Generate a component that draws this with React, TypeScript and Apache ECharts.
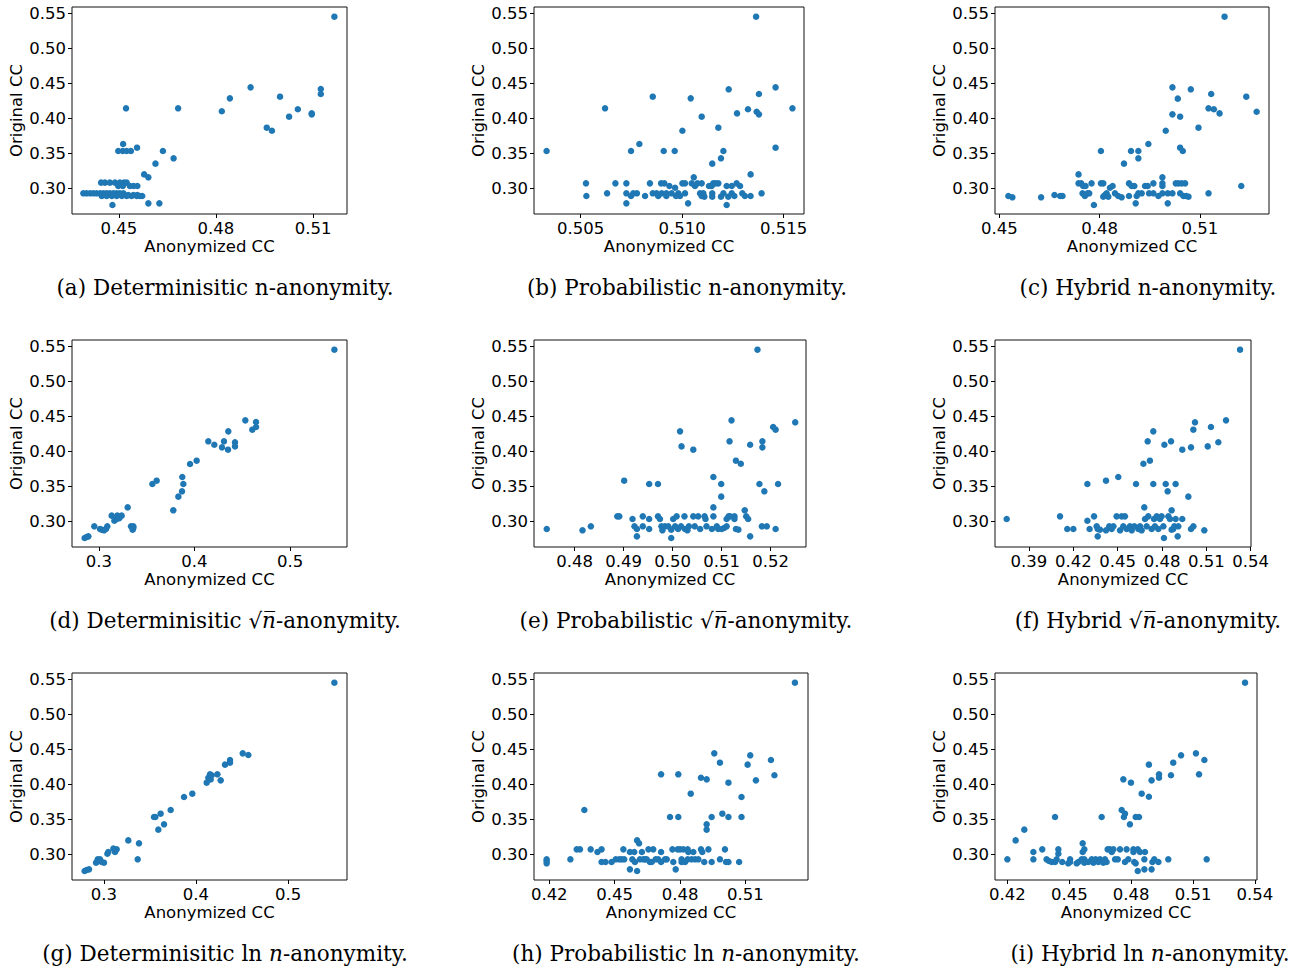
import { useEffect, useRef } from "react";
import * as echarts from "echarts";

type P = [number, number];

// Original CC (y) tick labels shared by every panel
const yTicks = [0.3, 0.35, 0.4, 0.45, 0.5, 0.55];

// Anonymized CC (x) tick labels per panel
const xTicksA = [0.45, 0.48, 0.51];
const xTicksB = [0.505, 0.51, 0.515];
const xTicksC = [0.45, 0.48, 0.51];
const xTicksD = [0.3, 0.4, 0.5];
const xTicksE = [0.48, 0.49, 0.5, 0.51, 0.52];
const xTicksF = [0.39, 0.42, 0.45, 0.48, 0.51, 0.54];
const xTicksG = [0.3, 0.4, 0.5];
const xTicksH = [0.42, 0.45, 0.48, 0.51];
const xTicksI = [0.42, 0.45, 0.48, 0.51, 0.54];

// [anonymized CC, original CC]
const detN: P[] = [
  [0.5166, 0.5452], [0.4907, 0.4444], [0.4843, 0.4287], [0.4818, 0.4104], [0.4998, 0.4311],
  [0.5053, 0.4131], [0.5026, 0.4026], [0.5096, 0.4059], [0.5096, 0.4073], [0.5124, 0.4421],
  [0.5124, 0.4349], [0.4957, 0.3869], [0.4973, 0.3826], [0.4522, 0.4145], [0.4683, 0.4145],
  [0.4513, 0.3636], [0.4498, 0.3536], [0.4512, 0.3536], [0.4524, 0.3536], [0.4537, 0.3536],
  [0.4556, 0.3584], [0.4636, 0.3536], [0.4669, 0.3432], [0.4613, 0.3356], [0.4578, 0.3203],
  [0.4591, 0.3161], [0.4591, 0.279], [0.4625, 0.279], [0.448, 0.2766],
  [0.4445, 0.3085], [0.4457, 0.3085], [0.4472, 0.3085], [0.4488, 0.3085], [0.4503, 0.3085],
  [0.4516, 0.3085], [0.4524, 0.3085],
  [0.4498, 0.3037], [0.4512, 0.3037], [0.4534, 0.3037], [0.4545, 0.3037], [0.4557, 0.3037],
  [0.439, 0.2933], [0.44, 0.2933], [0.4411, 0.2933], [0.4421, 0.2933], [0.4431, 0.2933],
  [0.4442, 0.2933], [0.4452, 0.2933], [0.4462, 0.2933], [0.4472, 0.2933], [0.4483, 0.2933],
  [0.4493, 0.2933], [0.4503, 0.2933], [0.4514, 0.2933],
  [0.4447, 0.2895], [0.4462, 0.2895], [0.4478, 0.2895], [0.4493, 0.2895], [0.4509, 0.2895],
  [0.4524, 0.2895], [0.4539, 0.2895], [0.4555, 0.2895], [0.4565, 0.2895], [0.4572, 0.2895],
  [0.4529, 0.2909], [0.4545, 0.2909], [0.4557, 0.2909],
];

const probN: P[] = [
  [0.50332, 0.3536], [0.5062, 0.4145], [0.50526, 0.3075], [0.50528, 0.2895], [0.5063, 0.2933],
  [0.50671, 0.3075], [0.50725, 0.3075], [0.50725, 0.2933], [0.50725, 0.279], [0.50748, 0.3536],
  [0.50748, 0.2895], [0.50759, 0.2933], [0.50777, 0.2933], [0.50789, 0.3636], [0.50817, 0.2895],
  [0.50855, 0.4311], [0.50841, 0.3075], [0.50855, 0.2933], [0.50874, 0.2933], [0.50882, 0.2895],
  [0.50899, 0.2933], [0.50896, 0.3075], [0.50912, 0.3075], [0.50909, 0.3536], [0.50922, 0.2933],
  [0.50922, 0.2895], [0.50937, 0.3037], [0.50948, 0.2933], [0.50965, 0.3013], [0.50963, 0.3536],
  [0.5097, 0.2895], [0.50981, 0.2933], [0.50989, 0.2895], [0.51001, 0.3826], [0.51001, 0.3075],
  [0.51014, 0.3075], [0.51014, 0.2933], [0.51029, 0.279], [0.51042, 0.4287], [0.51047, 0.3075],
  [0.51057, 0.3161], [0.51063, 0.3037], [0.51075, 0.3075], [0.51088, 0.2933], [0.51096, 0.3075],
  [0.51096, 0.2895], [0.51104, 0.2933], [0.51109, 0.2885], [0.51096, 0.4026], [0.51132, 0.3037],
  [0.51145, 0.3037], [0.51153, 0.3075], [0.51165, 0.3075], [0.51178, 0.3075], [0.51148, 0.2933],
  [0.51148, 0.2885], [0.51148, 0.3356], [0.51178, 0.3869], [0.51191, 0.3432], [0.51203, 0.3536],
  [0.51191, 0.2885], [0.51203, 0.2933], [0.51219, 0.3037], [0.51219, 0.2766], [0.51227, 0.2885],
  [0.51244, 0.3037], [0.51244, 0.2933], [0.51257, 0.2895], [0.51229, 0.4416], [0.5127, 0.4073],
  [0.51268, 0.3075], [0.51285, 0.3037], [0.51296, 0.2933], [0.51309, 0.2895], [0.51337, 0.2895],
  [0.51391, 0.2933], [0.51324, 0.4131], [0.51337, 0.3203], [0.51364, 0.5452], [0.51367, 0.4097],
  [0.51378, 0.4059], [0.51378, 0.4349], [0.5146, 0.4444], [0.5146, 0.3584], [0.51543, 0.4145],
];

const hybN: P[] = [
  [0.4527, 0.2895], [0.4539, 0.2876], [0.4625, 0.2876], [0.4665, 0.2909], [0.4682, 0.2895],
  [0.4689, 0.2895], [0.4737, 0.3203], [0.4737, 0.3075], [0.4745, 0.3075], [0.4751, 0.3037],
  [0.4758, 0.3037], [0.4749, 0.2933], [0.4756, 0.2895], [0.4764, 0.2933], [0.4769, 0.2933],
  [0.4776, 0.3075], [0.4783, 0.2766], [0.4804, 0.3536], [0.4804, 0.3075], [0.4811, 0.3075],
  [0.4811, 0.2885], [0.4816, 0.2909], [0.4821, 0.2933], [0.4826, 0.2885], [0.4831, 0.3013],
  [0.4839, 0.3037], [0.4846, 0.2933], [0.4856, 0.2895], [0.4866, 0.2876], [0.4873, 0.3356],
  [0.4888, 0.3075], [0.4896, 0.3037], [0.4888, 0.2895], [0.4894, 0.3536], [0.4904, 0.3037],
  [0.4908, 0.279], [0.4911, 0.2895], [0.4916, 0.2933], [0.4926, 0.2933], [0.4916, 0.3536],
  [0.4916, 0.3432], [0.4936, 0.3037], [0.4944, 0.3037], [0.4946, 0.3636], [0.4948, 0.2933],
  [0.4961, 0.2933], [0.4961, 0.3075], [0.4976, 0.2895], [0.4988, 0.2933], [0.4988, 0.3037],
  [0.4988, 0.3075], [0.4988, 0.3161], [0.4998, 0.3826], [0.5004, 0.279], [0.5004, 0.2933],
  [0.5018, 0.2933], [0.5018, 0.4444], [0.5018, 0.4059], [0.5028, 0.3075], [0.5036, 0.3075],
  [0.5046, 0.3075], [0.5056, 0.3075], [0.5034, 0.4283], [0.5041, 0.4026], [0.5041, 0.3584],
  [0.5049, 0.3536], [0.5041, 0.2933], [0.5051, 0.2895], [0.5059, 0.2895], [0.5066, 0.2885],
  [0.5073, 0.4416], [0.5096, 0.3869], [0.5126, 0.4145], [0.5134, 0.4349], [0.5142, 0.4131],
  [0.5159, 0.4073], [0.5126, 0.2933], [0.5174, 0.5452], [0.5224, 0.3037], [0.5239, 0.4311],
  [0.527, 0.4097],
];

const detSqrt: P[] = [
  [0.5463, 0.5452], [0.2852, 0.2766], [0.2873, 0.278], [0.2891, 0.279], [0.2953, 0.2933],
  [0.3013, 0.2895], [0.303, 0.2885], [0.3055, 0.2876], [0.3075, 0.2895], [0.3089, 0.2933],
  [0.3135, 0.3085], [0.3163, 0.3013], [0.3187, 0.3037], [0.3194, 0.3085], [0.3215, 0.305],
  [0.3239, 0.3085], [0.3302, 0.3203], [0.3337, 0.2933], [0.3361, 0.2933], [0.3354, 0.2885],
  [0.3361, 0.2909], [0.356, 0.3536], [0.3605, 0.3584], [0.3779, 0.3161], [0.3832, 0.3356],
  [0.387, 0.3432], [0.3884, 0.3536], [0.3873, 0.3636], [0.3954, 0.3821], [0.4023, 0.3869],
  [0.4145, 0.4145], [0.4208, 0.4097], [0.4288, 0.4059], [0.4309, 0.4145], [0.4354, 0.4287],
  [0.4351, 0.4026], [0.4424, 0.4131], [0.4424, 0.4073], [0.4532, 0.4444], [0.4605, 0.4311],
  [0.4644, 0.4421], [0.4644, 0.4349],
];

const probSqrt: P[] = [
  [0.4743, 0.2895], [0.4816, 0.2876], [0.4833, 0.2933], [0.4887, 0.3075], [0.4891, 0.3075],
  [0.4901, 0.3584], [0.4918, 0.3037], [0.4922, 0.2933], [0.4927, 0.2895], [0.4927, 0.279],
  [0.4939, 0.3075], [0.4939, 0.2933], [0.4952, 0.3536], [0.4952, 0.3037], [0.4952, 0.2895],
  [0.497, 0.3536], [0.497, 0.3075], [0.4974, 0.3037], [0.4977, 0.2933], [0.4979, 0.2876],
  [0.4984, 0.2933], [0.4991, 0.2933], [0.4997, 0.2766], [0.4997, 0.2885], [0.5001, 0.3037],
  [0.5005, 0.2933], [0.5008, 0.3075], [0.5011, 0.2895], [0.5017, 0.2933], [0.5024, 0.3075],
  [0.5025, 0.2895], [0.503, 0.2876], [0.5033, 0.2933], [0.5042, 0.3075], [0.5045, 0.2933],
  [0.5052, 0.3075], [0.5056, 0.2895], [0.5065, 0.3075], [0.5067, 0.3037], [0.5069, 0.2933],
  [0.508, 0.2895], [0.5083, 0.3075], [0.5083, 0.3203], [0.5083, 0.3636], [0.509, 0.2933],
  [0.5093, 0.2895], [0.5099, 0.3356], [0.5099, 0.3536], [0.51, 0.2895], [0.5105, 0.2909],
  [0.511, 0.2933], [0.511, 0.3037], [0.5114, 0.3075], [0.5117, 0.3075], [0.5126, 0.3075],
  [0.5126, 0.3037], [0.5129, 0.2895], [0.5134, 0.2885], [0.5015, 0.4287], [0.5018, 0.4073],
  [0.5042, 0.4026], [0.5116, 0.4145], [0.512, 0.4444], [0.5129, 0.3869], [0.5139, 0.3826],
  [0.5147, 0.3161], [0.515, 0.3075], [0.5154, 0.3037], [0.5158, 0.279], [0.5158, 0.4097],
  [0.5173, 0.5452], [0.5177, 0.3536], [0.5182, 0.2933], [0.5192, 0.2933], [0.5183, 0.4145],
  [0.5183, 0.4059], [0.5187, 0.3432], [0.5205, 0.4349], [0.521, 0.4311], [0.521, 0.2895],
  [0.5215, 0.3536], [0.525, 0.4416],
];

const hybSqrt: P[] = [
  [0.3749, 0.3037], [0.411, 0.3075], [0.4159, 0.2895], [0.42, 0.2895], [0.4295, 0.3536],
  [0.4295, 0.3013], [0.431, 0.2895], [0.434, 0.3075], [0.4358, 0.2933], [0.4365, 0.2895],
  [0.4365, 0.279], [0.438, 0.2885], [0.4421, 0.3584], [0.4421, 0.2876], [0.4443, 0.2933],
  [0.4459, 0.2895], [0.4471, 0.2933], [0.4493, 0.3075], [0.4504, 0.3636], [0.4516, 0.2876],
  [0.4527, 0.3075], [0.4538, 0.2933], [0.4549, 0.3075], [0.4561, 0.2895], [0.4583, 0.2933],
  [0.4595, 0.2876], [0.4613, 0.2933], [0.4624, 0.3536], [0.464, 0.2895], [0.4651, 0.2933],
  [0.4662, 0.2876], [0.4674, 0.3826], [0.468, 0.3203], [0.4685, 0.3037], [0.4696, 0.2933],
  [0.4703, 0.4145], [0.4707, 0.3075], [0.4718, 0.3869], [0.473, 0.2895], [0.4741, 0.3536],
  [0.4741, 0.4287], [0.4746, 0.3037], [0.4752, 0.2933], [0.4764, 0.3075], [0.4775, 0.2895],
  [0.4786, 0.3037], [0.4797, 0.3075], [0.4809, 0.2933], [0.4813, 0.2766], [0.4816, 0.4097],
  [0.4825, 0.3536], [0.4838, 0.3432], [0.4843, 0.3075], [0.4854, 0.3037], [0.4861, 0.4145],
  [0.4865, 0.3161], [0.4865, 0.2885], [0.4876, 0.2895], [0.4883, 0.2933], [0.4892, 0.3536],
  [0.4892, 0.3037], [0.4906, 0.279], [0.491, 0.2933], [0.4937, 0.4026], [0.4937, 0.3037],
  [0.4978, 0.3356], [0.4996, 0.4059], [0.4996, 0.2895], [0.5012, 0.2933], [0.5012, 0.4311],
  [0.5023, 0.4416], [0.5086, 0.2876], [0.5109, 0.4073], [0.5131, 0.4349], [0.5181, 0.4131],
  [0.5233, 0.4444], [0.5328, 0.5452],
];

const detLn: P[] = [
  [0.5503, 0.5452], [0.2792, 0.2766], [0.2814, 0.278], [0.284, 0.279], [0.2916, 0.2885],
  [0.2934, 0.2933], [0.2941, 0.2909], [0.2959, 0.2933], [0.2977, 0.2895], [0.3002, 0.2885],
  [0.3039, 0.3013], [0.3049, 0.3037], [0.3104, 0.3085], [0.3122, 0.3037], [0.314, 0.3075],
  [0.3266, 0.3203], [0.3368, 0.2933], [0.3382, 0.3161], [0.3545, 0.3536], [0.356, 0.3536],
  [0.3592, 0.3356], [0.3617, 0.3584], [0.3654, 0.3432], [0.3726, 0.3636], [0.3871, 0.3821],
  [0.3961, 0.3869], [0.4117, 0.4026], [0.4135, 0.4097], [0.4153, 0.4145], [0.416, 0.4073],
  [0.4171, 0.4131], [0.4233, 0.4145], [0.4269, 0.4059], [0.4316, 0.4283], [0.437, 0.4349],
  [0.437, 0.4311], [0.4508, 0.4444], [0.4569, 0.4421],
];

const probLn: P[] = [
  [0.4188, 0.2933], [0.4188, 0.2909], [0.4188, 0.2876], [0.4297, 0.2933], [0.4326, 0.3075],
  [0.4341, 0.3075], [0.4361, 0.3636], [0.439, 0.3075], [0.4421, 0.3037], [0.444, 0.3075],
  [0.444, 0.2895], [0.4458, 0.2895], [0.4486, 0.2895], [0.4505, 0.2933], [0.4521, 0.2933],
  [0.4532, 0.2933], [0.454, 0.3075], [0.4544, 0.2933], [0.457, 0.3037], [0.457, 0.279],
  [0.4581, 0.2933], [0.459, 0.3037], [0.4593, 0.2895], [0.4603, 0.3203], [0.4612, 0.3161],
  [0.4603, 0.2766], [0.4616, 0.2933], [0.4625, 0.3037], [0.4632, 0.2933], [0.4639, 0.2933],
  [0.4647, 0.2933], [0.4655, 0.3075], [0.4662, 0.2895], [0.467, 0.2895], [0.4677, 0.3075],
  [0.4688, 0.2933], [0.47, 0.2933], [0.4713, 0.4145], [0.4713, 0.3037], [0.4713, 0.2895],
  [0.4731, 0.2933], [0.4739, 0.2933], [0.4754, 0.3536], [0.4765, 0.3075], [0.4769, 0.2895],
  [0.478, 0.279], [0.4789, 0.3075], [0.4792, 0.3536], [0.4792, 0.4145], [0.48, 0.3075],
  [0.4807, 0.2895], [0.4807, 0.2933], [0.4815, 0.3075], [0.4823, 0.2895], [0.4835, 0.3075],
  [0.4835, 0.2933], [0.4838, 0.3037], [0.4849, 0.3869], [0.4853, 0.2933], [0.4861, 0.3037],
  [0.4869, 0.2933], [0.4884, 0.2933], [0.4896, 0.3075], [0.4902, 0.3037], [0.4911, 0.2895],
  [0.493, 0.3075], [0.4945, 0.2895], [0.4896, 0.4097], [0.4922, 0.4073], [0.4922, 0.3432],
  [0.4922, 0.3356], [0.4945, 0.3536], [0.4957, 0.4444], [0.4983, 0.4311], [0.4994, 0.3584],
  [0.4983, 0.2933], [0.5006, 0.3075], [0.5011, 0.2895], [0.5022, 0.2895], [0.5022, 0.4026],
  [0.5022, 0.3536], [0.5071, 0.2895], [0.5082, 0.3821], [0.5082, 0.3536], [0.511, 0.4283],
  [0.5122, 0.4416], [0.5148, 0.4059], [0.5217, 0.4349], [0.5233, 0.4131], [0.5327, 0.5452],
];

const hybLn: P[] = [
  [0.42, 0.2933], [0.424, 0.3203], [0.4282, 0.3356], [0.4326, 0.3037], [0.4326, 0.2933],
  [0.4369, 0.3075], [0.439, 0.2933], [0.4402, 0.2909], [0.4415, 0.2895], [0.4431, 0.3536],
  [0.4431, 0.2895], [0.4439, 0.2933], [0.4447, 0.3075], [0.4447, 0.3013], [0.4466, 0.2895],
  [0.4495, 0.2876], [0.4504, 0.2895], [0.4504, 0.2933], [0.4536, 0.2876], [0.4544, 0.2895],
  [0.456, 0.2933], [0.4565, 0.3161], [0.4565, 0.3037], [0.4573, 0.3075], [0.4573, 0.2933],
  [0.4573, 0.2885], [0.4592, 0.2895], [0.4609, 0.2933], [0.4617, 0.2885], [0.4628, 0.2933],
  [0.4641, 0.2895], [0.4649, 0.2933], [0.4657, 0.3536], [0.4665, 0.2885], [0.4673, 0.2933],
  [0.4681, 0.2895], [0.4686, 0.3075], [0.4697, 0.3075], [0.4706, 0.3037], [0.4714, 0.3075],
  [0.4722, 0.2933], [0.4735, 0.2933], [0.4746, 0.3075], [0.4754, 0.3636], [0.4762, 0.4073],
  [0.4765, 0.3536], [0.477, 0.3584], [0.477, 0.2895], [0.4778, 0.3075], [0.4786, 0.2933],
  [0.4794, 0.3432], [0.4799, 0.4026], [0.4811, 0.3075], [0.4811, 0.3037], [0.4815, 0.2895],
  [0.4822, 0.3536], [0.4822, 0.2876], [0.4832, 0.2766], [0.4832, 0.3075], [0.4838, 0.3536],
  [0.4843, 0.3037], [0.4851, 0.3869], [0.4864, 0.2933], [0.4864, 0.279], [0.4867, 0.3037],
  [0.4886, 0.4283], [0.4886, 0.3826], [0.4899, 0.4059], [0.4899, 0.279], [0.4903, 0.2895],
  [0.4912, 0.2933], [0.4932, 0.2895], [0.4935, 0.4145], [0.4935, 0.4097], [0.498, 0.2933],
  [0.4993, 0.4131], [0.5004, 0.4311], [0.5042, 0.4416], [0.5114, 0.4444], [0.5129, 0.4145],
  [0.5155, 0.4349], [0.5166, 0.2933], [0.5352, 0.5452],
];

const captions = [
  "(a) Determinisitic n-anonymity.",
  "(b) Probabilistic n-anonymity.",
  "(c) Hybrid n-anonymity.",
  "(d) Determinisitic √{i|n\u0305}-anonymity.",
  "(e) Probabilistic √{i|n\u0305}-anonymity.",
  "(f) Hybrid √{i|n\u0305}-anonymity.",
  "(g) Determinisitic ln {i|n}-anonymity.",
  "(h) Probabilistic ln {i|n}-anonymity.",
  "(i) Hybrid ln {i|n}-anonymity.",
];

const Y_RANGE: [number, number] = [0.2638, 0.559];

const panels = [
  { data: detN, ticks: xTicksA, dec: 2, range: [0.4355, 0.5205], box: [72, 7, 347, 214], cap: [225, 287] },
  { data: probN, ticks: xTicksB, dec: 3, range: [0.5027, 0.516], box: [534, 7, 804, 214], cap: [687, 287] },
  { data: hybN, ticks: xTicksC, dec: 2, range: [0.4487, 0.5307], box: [995, 7, 1269, 214], cap: [1148, 287] },
  { data: detSqrt, ticks: xTicksD, dec: 1, range: [0.272, 0.5595], box: [72, 340, 347, 547], cap: [225, 620] },
  { data: probSqrt, ticks: xTicksE, dec: 2, range: [0.4717, 0.5272], box: [534, 340, 806, 547], cap: [686, 620] },
  { data: hybSqrt, ticks: xTicksF, dec: 2, range: [0.367, 0.5402], box: [995, 340, 1251, 547], cap: [1148, 620] },
  { data: detLn, ticks: xTicksG, dec: 1, range: [0.2655, 0.564], box: [72, 673, 347, 880], cap: [225, 953] },
  { data: probLn, ticks: xTicksH, dec: 2, range: [0.413, 0.5387], box: [534, 673, 808, 880], cap: [686, 953] },
  { data: hybLn, ticks: xTicksI, dec: 2, range: [0.414, 0.541], box: [995, 673, 1257, 880], cap: [1150, 953] },
];

const SANS = "'DejaVu Sans', sans-serif";
const SERIF = "'DejaVu Serif', serif";
const FS = 16.5;
const CAP_FS = 21.5;

export default function App() {
  const ref = useRef<HTMLDivElement>(null);

  useEffect(() => {
    if (!ref.current) return;
    const chart = echarts.init(ref.current, undefined, { renderer: "svg" });

    const grid = panels.map((p) => ({
      left: p.box[0],
      top: p.box[1],
      width: p.box[2] - p.box[0],
      height: p.box[3] - p.box[1],
      show: true,
      borderColor: "#111",
      borderWidth: 1,
      backgroundColor: "transparent",
      containLabel: false,
      outerBoundsMode: "none",
    }));

    const xAxis = panels.map((p, i) => ({
      type: "value",
      gridIndex: i,
      min: p.range[0],
      max: p.range[1],
      axisLine: { show: false, onZero: false },
      axisTick: { show: true, inside: false, length: 4, lineStyle: { color: "#000", width: 1 }, customValues: p.ticks },
      axisLabel: {
        customValues: p.ticks,
        formatter: (v: number) => Number(v).toFixed(p.dec),
        color: "#000",
        fontSize: FS,
        fontFamily: SANS,
        margin: 6,
      },
      splitLine: { show: false },
      name: "Anonymized CC",
      nameLocation: "middle",
      nameGap: 24,
      nameTextStyle: { color: "#000", fontSize: FS, fontFamily: SANS },
    }));

    const yAxis = panels.map((p, i) => ({
      type: "value",
      gridIndex: i,
      min: Y_RANGE[0],
      max: Y_RANGE[1],
      axisLine: { show: false, onZero: false },
      axisTick: { show: true, inside: false, length: 4, lineStyle: { color: "#000", width: 1 }, customValues: yTicks },
      axisLabel: {
        customValues: yTicks,
        formatter: (v: number) => Number(v).toFixed(2),
        color: "#000",
        fontSize: FS,
        fontFamily: SANS,
        margin: 6,
      },
      splitLine: { show: false },
      name: "Original CC",
      nameLocation: "middle",
      nameGap: 46,
      nameTextStyle: { color: "#000", fontSize: FS, fontFamily: SANS },
    }));

    const series = panels.map((p, i) => ({
      type: "scatter",
      xAxisIndex: i,
      yAxisIndex: i,
      data: p.data,
      symbol: "circle",
      symbolSize: 6.5,
      itemStyle: { color: "#1f77b4", opacity: 1 },
      silent: true,
    }));

    const graphic = panels.map((p, i) => ({
      type: "text",
      x: p.cap[0],
      y: p.cap[1],
      silent: true,
      style: {
        text: captions[i],
        align: "center",
        verticalAlign: "middle",
        fontSize: CAP_FS,
        fontFamily: SERIF,
        fill: "#000",
        rich: {
          i: { fontSize: CAP_FS, fontFamily: SERIF, fontStyle: "italic", fill: "#000" },
        },
      },
    }));

    chart.setOption({
      animation: false,
      backgroundColor: "#fff",
      grid,
      xAxis,
      yAxis,
      series,
      graphic,
    } as any);

    return () => chart.dispose();
  }, []);

  return (
    <div
      ref={ref}
      style={{ position: "absolute", left: 0, top: 0, width: 1297, height: 968, background: "#fff" }}
    />
  );
}
